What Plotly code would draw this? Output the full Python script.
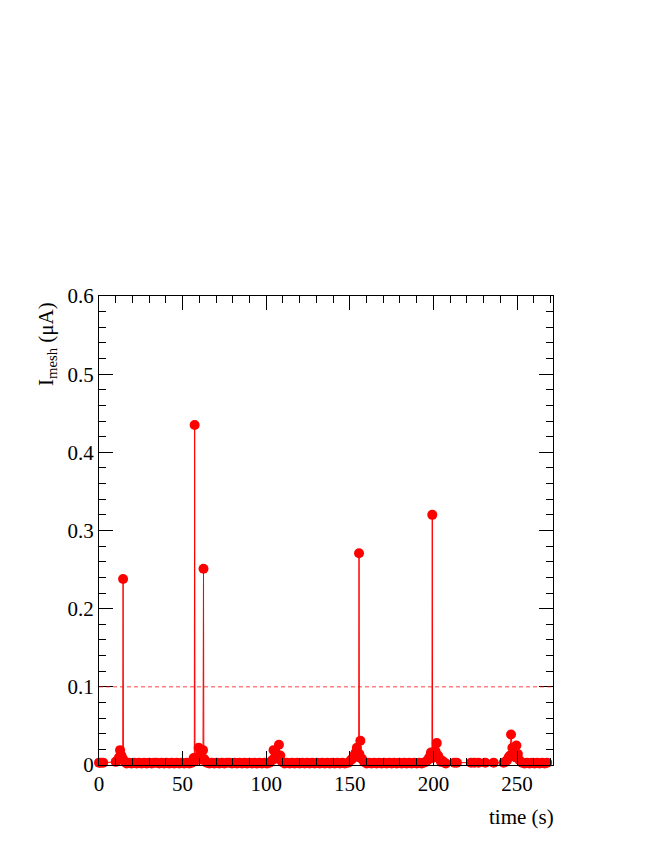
import plotly.graph_objects as go

# mesh current vs time
time_s = [
    0, 1, 2.5, 10, 11, 12, 12.6, 13.4, 14.2, 14.4, 14.6, 15.4, 16.5, 18,
    19.5, 21, 22.5, 24, 25.5, 27, 28.5, 30, 31.5, 33, 34.5, 36, 37.5, 39, 40.5, 42, 43.5, 45,
    46.5, 48, 49.5, 51, 52.5, 54,
    55.5, 56.6, 57.0, 57.2, 57.4, 58.5, 59.6, 60.4, 61.2, 62.2, 62.5, 62.7, 63.4, 64.5,
    66, 67.5, 69, 70.5, 72, 73.5, 75, 76.5, 78, 79.5, 81, 82.5, 84, 85.5, 87, 88.5, 90,
    91.5, 93, 94.5, 96, 97.5, 99, 100.5,
    102, 103.5, 104.4, 105.2, 106, 106.8, 107.6, 108.4, 109.5,
    111, 112.5, 114, 115.5, 117, 118.5, 120, 121.5, 123, 124.5, 126, 127.5, 129, 130.5, 132,
    133.5, 135, 136.5, 138, 139.5, 141, 142.5, 144, 145.5, 147,
    149, 150.5, 151.5, 152.5, 153.5, 154.2, 155.3, 155.5, 155.7, 156.3, 157.2, 158.5,
    160, 161.5, 163, 164.5, 166, 167.5, 169, 170.5, 172, 173.5, 175, 176.5, 178, 179.5, 181,
    182.5, 184, 185.5, 187, 188.5, 190, 191.5, 193,
    194, 195.5, 196.5, 197.5, 198.5, 199.1, 199.3, 199.5, 200.3, 201.2, 202, 202.8, 203.6, 204.5,
    205.5, 206.5, 207.5, 212.5, 214, 222.5, 224.5, 227, 231, 236,
    242, 243, 244, 245, 245.8, 246.4, 247.2, 248, 248.8, 249.6, 250.5, 251.5,
    253, 254.5, 256, 257.5, 259, 260.5, 262, 263.5, 265, 266.5, 268,
]
i_mesh = [
    0.003, 0.003, 0.003, 0.004, 0.006, 0.010, 0.019, 0.012, 0.008, 0.238, 0.006, 0.004, 0.002, 0.003,
    0.002, 0.003, 0.002, 0.003, 0.002, 0.003, 0.002, 0.003, 0.002, 0.003, 0.003, 0.002, 0.003, 0.002, 0.003, 0.002, 0.003, 0.002,
    0.003, 0.002, 0.003, 0.002, 0.003, 0.002,
    0.003, 0.009, 0.006, 0.435, 0.005, 0.010, 0.022, 0.012, 0.007, 0.019, 0.251, 0.008, 0.006, 0.003,
    0.002, 0.003, 0.002, 0.003, 0.002, 0.003, 0.002, 0.003, 0.003, 0.002, 0.003, 0.002, 0.003, 0.002, 0.003, 0.002, 0.003,
    0.002, 0.003, 0.002, 0.003, 0.002, 0.003, 0.002,
    0.003, 0.006, 0.019, 0.010, 0.014, 0.008, 0.026, 0.012, 0.004,
    0.002, 0.003, 0.002, 0.003, 0.002, 0.003, 0.002, 0.003, 0.002, 0.003, 0.002, 0.003, 0.002, 0.003, 0.002,
    0.003, 0.002, 0.003, 0.002, 0.003, 0.002, 0.003, 0.002, 0.003, 0.002,
    0.003, 0.006, 0.008, 0.012, 0.016, 0.022, 0.010, 0.271, 0.014, 0.031, 0.008, 0.004,
    0.002, 0.003, 0.002, 0.003, 0.002, 0.003, 0.002, 0.003, 0.002, 0.003, 0.002, 0.003, 0.002, 0.003, 0.002,
    0.003, 0.002, 0.003, 0.002, 0.003, 0.002, 0.003, 0.002,
    0.003, 0.004, 0.006, 0.010, 0.016, 0.012, 0.320, 0.009, 0.015, 0.018, 0.028, 0.012, 0.008, 0.004,
    0.005, 0.003, 0.002, 0.003, 0.003, 0.003, 0.003, 0.003, 0.003, 0.003,
    0.003, 0.004, 0.006, 0.010, 0.012, 0.039, 0.022, 0.017, 0.010, 0.025, 0.014, 0.006,
    0.003, 0.002, 0.003, 0.002, 0.003, 0.002, 0.003, 0.002, 0.003, 0.002, 0.003,
]
threshold = 0.1

serif = "Liberation Serif, Times New Roman, serif"

fig = go.Figure()
fig.add_trace(go.Scatter(
    x=time_s, y=i_mesh, mode="lines+markers",
    line=dict(color="#ff0000", width=1),
    marker=dict(color="#ff0000", size=10),
    cliponaxis=False, showlegend=False,
))
fig.add_hline(y=threshold, line=dict(color="rgba(255,0,0,0.75)", width=1, dash="4px,3px"))

axis_common = dict(
    showgrid=False, zeroline=False,
    showline=True, linecolor="black", linewidth=1, mirror="allticks",
    ticks="inside", ticklen=14, tickwidth=1, tickcolor="black",
    tickfont=dict(family=serif, size=21, color="black"),
)
fig.update_xaxes(range=[0, 271.5], dtick=50, tick0=0,
                 minor=dict(ticks="inside", ticklen=7, dtick=10, tickcolor="black", showgrid=False),
                 **axis_common)
fig.update_yaxes(range=[0, 0.6], dtick=0.1, tick0=0,
                 minor=dict(ticks="inside", ticklen=7, dtick=0.02, tickcolor="black", showgrid=False),
                 **axis_common)

fig.add_annotation(text="time (s)", xref="paper", yref="paper", x=1.007, y=-0.08,
                   xanchor="right", yanchor="top", showarrow=False,
                   font=dict(family=serif, size=21, color="black"))
fig.add_annotation(text="I<sub>mesh</sub> (μA)", xref="paper", yref="paper", x=-0.115, y=0.991,
                   xanchor="center", yanchor="top", textangle=-90, showarrow=False,
                   font=dict(family=serif, size=21, color="black"))

# the page adds an 8 px body margin, so the frame is set 8 px up and left
fig.update_layout(
    width=664, height=860,
    margin=dict(l=91, r=119, t=288, b=103, autoexpand=False),
    plot_bgcolor="white", paper_bgcolor="white",
)
fig.write_html("out.html")
